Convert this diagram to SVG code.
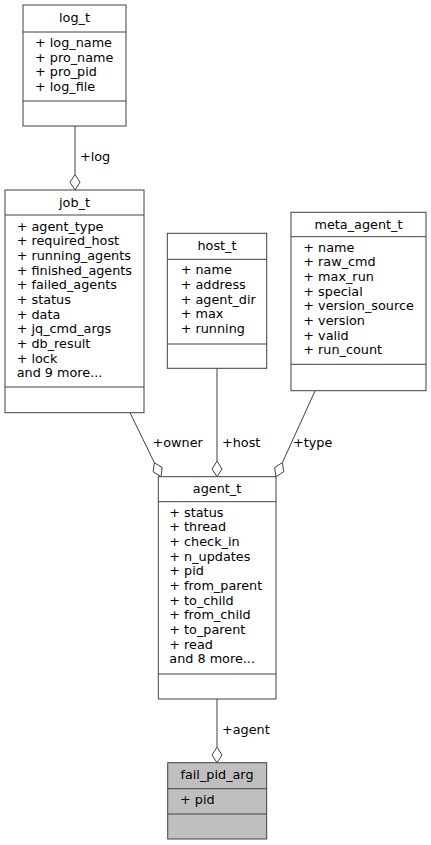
<svg xmlns="http://www.w3.org/2000/svg" width="431" height="845" viewBox="0 0 431 845">
<style>
.box{fill:#ffffff;stroke:#404040;stroke-width:1}
.focus{fill:#bfbfbf;stroke:#404040;stroke-width:1}
.sep{stroke:#404040;stroke-width:1}
.edge{fill:none;stroke:#404040;stroke-width:1}
.dia{fill:#ffffff;stroke:#404040;stroke-width:1}
text{font-family:"DejaVu Sans","Liberation Sans",sans-serif;font-size:12.8px;fill:#000000}
.t{text-anchor:middle}
</style>
<rect width="431" height="845" fill="#ffffff"/>
<g id="connectors">
<line class="edge" x1="75" y1="126" x2="75" y2="174.5"/>
<polygon class="dia" points="75,190 80,182.25 75,174.5 70,182.25"/>
<text x="80" y="161">+log</text>
<line class="edge" x1="130" y1="412.7" x2="154.35" y2="462.7"/>
<polygon class="dia" points="161,476.7 162.2,467.55 154.35,462.7 153.16,471.85"/>
<text x="152.5" y="447.3">+owner</text>
<line class="edge" x1="217" y1="368.3" x2="217" y2="461.2"/>
<polygon class="dia" points="217,476.7 222,468.95 217,461.2 212,468.95"/>
<text x="222" y="447.3">+host</text>
<line class="edge" x1="315" y1="391" x2="282.4" y2="462.6"/>
<polygon class="dia" points="276,476.7 283.76,471.7 282.4,462.6 274.65,467.6"/>
<text x="293" y="447.3">+type</text>
<line class="edge" x1="217" y1="699" x2="217" y2="747.2"/>
<polygon class="dia" points="217,762.7 222,754.95 217,747.2 212,754.95"/>
<text x="222" y="734">+agent</text>
</g>
<g id="log_t">
<rect class="box" x="23" y="5" width="103" height="121"/>
<line class="sep" x1="23" y1="32" x2="126" y2="32"/>
<line class="sep" x1="23" y1="101" x2="126" y2="101"/>
<text class="t" x="74.5" y="22">log_t</text>
<text x="35" y="47">+ log_name</text>
<text x="35" y="61.7">+ pro_name</text>
<text x="35" y="76.3">+ pro_pid</text>
<text x="35" y="91">+ log_file</text>
</g>
<g id="job_t">
<rect class="box" x="5" y="190" width="139" height="222.7"/>
<line class="sep" x1="5" y1="215" x2="144" y2="215"/>
<line class="sep" x1="5" y1="387" x2="144" y2="387"/>
<text class="t" x="74.5" y="207">job_t</text>
<text x="16.7" y="230.5">+ agent_type</text>
<text x="16.7" y="245.2">+ required_host</text>
<text x="16.7" y="259.8">+ running_agents</text>
<text x="16.7" y="274.5">+ finished_agents</text>
<text x="16.7" y="289.2">+ failed_agents</text>
<text x="16.7" y="303.9">+ status</text>
<text x="16.7" y="318.5">+ data</text>
<text x="16.7" y="333.2">+ jq_cmd_args</text>
<text x="16.7" y="347.9">+ db_result</text>
<text x="16.7" y="362.5">+ lock</text>
<text x="16.7" y="377.2">and 9 more...</text>
</g>
<g id="host_t">
<rect class="box" x="167.3" y="233.3" width="99.4" height="135"/>
<line class="sep" x1="167.3" y1="259.3" x2="266.7" y2="259.3"/>
<line class="sep" x1="167.3" y1="344" x2="266.7" y2="344"/>
<text class="t" x="217" y="250">host_t</text>
<text x="180.7" y="274.3">+ name</text>
<text x="180.7" y="289">+ address</text>
<text x="180.7" y="303.6">+ agent_dir</text>
<text x="180.7" y="318.3">+ max</text>
<text x="180.7" y="333">+ running</text>
</g>
<g id="meta_agent_t">
<rect class="box" x="291" y="212.3" width="135" height="178.4"/>
<line class="sep" x1="291" y1="236.7" x2="426" y2="236.7"/>
<line class="sep" x1="291" y1="364.3" x2="426" y2="364.3"/>
<text class="t" x="358.5" y="229">meta_agent_t</text>
<text x="303.3" y="251.7">+ name</text>
<text x="303.3" y="266.4">+ raw_cmd</text>
<text x="303.3" y="281">+ max_run</text>
<text x="303.3" y="295.7">+ special</text>
<text x="303.3" y="310.4">+ version_source</text>
<text x="303.3" y="325">+ version</text>
<text x="303.3" y="339.7">+ valid</text>
<text x="303.3" y="354.4">+ run_count</text>
</g>
<g id="agent_t">
<rect class="box" x="158.3" y="476.7" width="117.7" height="222.3"/>
<line class="sep" x1="158.3" y1="501.7" x2="276" y2="501.7"/>
<line class="sep" x1="158.3" y1="674" x2="276" y2="674"/>
<text class="t" x="217" y="493.3">agent_t</text>
<text x="169.3" y="516.5">+ status</text>
<text x="169.3" y="531.2">+ thread</text>
<text x="169.3" y="545.8">+ check_in</text>
<text x="169.3" y="560.5">+ n_updates</text>
<text x="169.3" y="575.2">+ pid</text>
<text x="169.3" y="589.9">+ from_parent</text>
<text x="169.3" y="604.5">+ to_child</text>
<text x="169.3" y="619.2">+ from_child</text>
<text x="169.3" y="633.9">+ to_parent</text>
<text x="169.3" y="648.5">+ read</text>
<text x="169.3" y="663.2">and 8 more...</text>
</g>
<g id="fail_pid_arg">
<rect class="focus" x="167.7" y="762.7" width="99" height="76.3"/>
<line class="sep" x1="167.7" y1="788.7" x2="266.7" y2="788.7"/>
<line class="sep" x1="167.7" y1="814" x2="266.7" y2="814"/>
<text class="t" x="217" y="779.3">fail_pid_arg</text>
<text x="180" y="804.3">+ pid</text>
</g>
</svg>
